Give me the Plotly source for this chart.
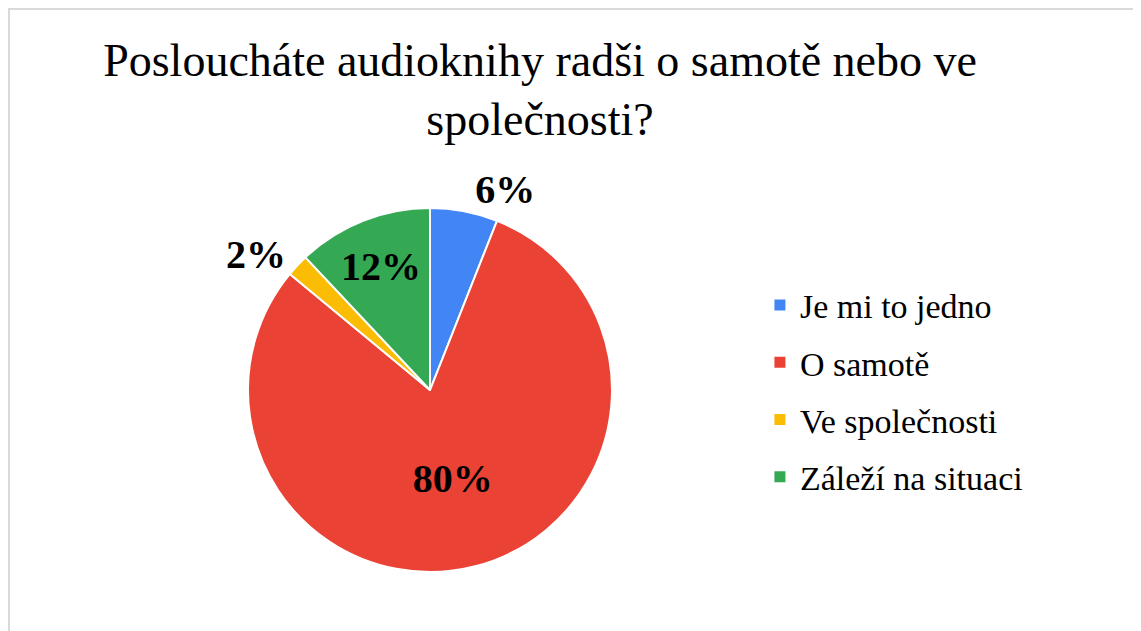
import plotly.graph_objects as go

categories = ["Je mi to jedno", "O samotě", "Ve společnosti", "Záleží na situaci"]
values = [6, 80, 2, 12]
colors = ["#4285F4", "#EA4335", "#FBBC04", "#34A853"]
title_text = "Posloucháte audioknihy radši o samotě nebo ve<br>společnosti?"

FONT = "Liberation Serif, Times New Roman, serif"

fig = go.Figure()
fig.add_trace(go.Pie(
    labels=categories,
    values=values,
    sort=False,
    direction="clockwise",
    rotation=0,
    marker=dict(colors=colors, line=dict(color="white", width=2)),
    texttemplate="%{value}%",
    textposition=["outside", "inside", "outside", "inside"],
    insidetextorientation="horizontal",
    textfont=dict(family=FONT, size=40, color="black", weight="bold"),
    domain=dict(x=[0.2103, 0.5294], y=[0.1062, 0.6830]),
    showlegend=False,
    hoverinfo="label+percent",
))

# legend entries
for name, c in zip(categories, colors):
    fig.add_trace(go.Scatter(
        x=[None], y=[None], mode="markers", name=name,
        marker=dict(symbol="square", size=11, color=c),
        legendgroup=name, showlegend=True,
    ))

fig.update_layout(
    width=1141, height=631,
    margin=dict(l=0, r=0, t=0, b=0),
    paper_bgcolor="white", plot_bgcolor="white",
    font=dict(family=FONT, color="black"),
    title=dict(text=title_text, x=0.4663, xanchor="center", y=0.893, yanchor="top",
               font=dict(family=FONT, size=46, color="black")),
    xaxis=dict(visible=False), yaxis=dict(visible=False),
    legend=dict(x=0.659, xanchor="left", y=0.393, yanchor="middle",
                font=dict(family=FONT, size=34, color="black"),
                tracegroupgap=10, bgcolor="rgba(0,0,0,0)"),
    shapes=[dict(type="rect", xref="paper", yref="paper",
                 x0=0.0009, x1=1.1, y0=-0.1, y1=0.9985,
                 line=dict(color="#d9d9d9", width=2), layer="below")],
)

fig.write_html("out.html")
